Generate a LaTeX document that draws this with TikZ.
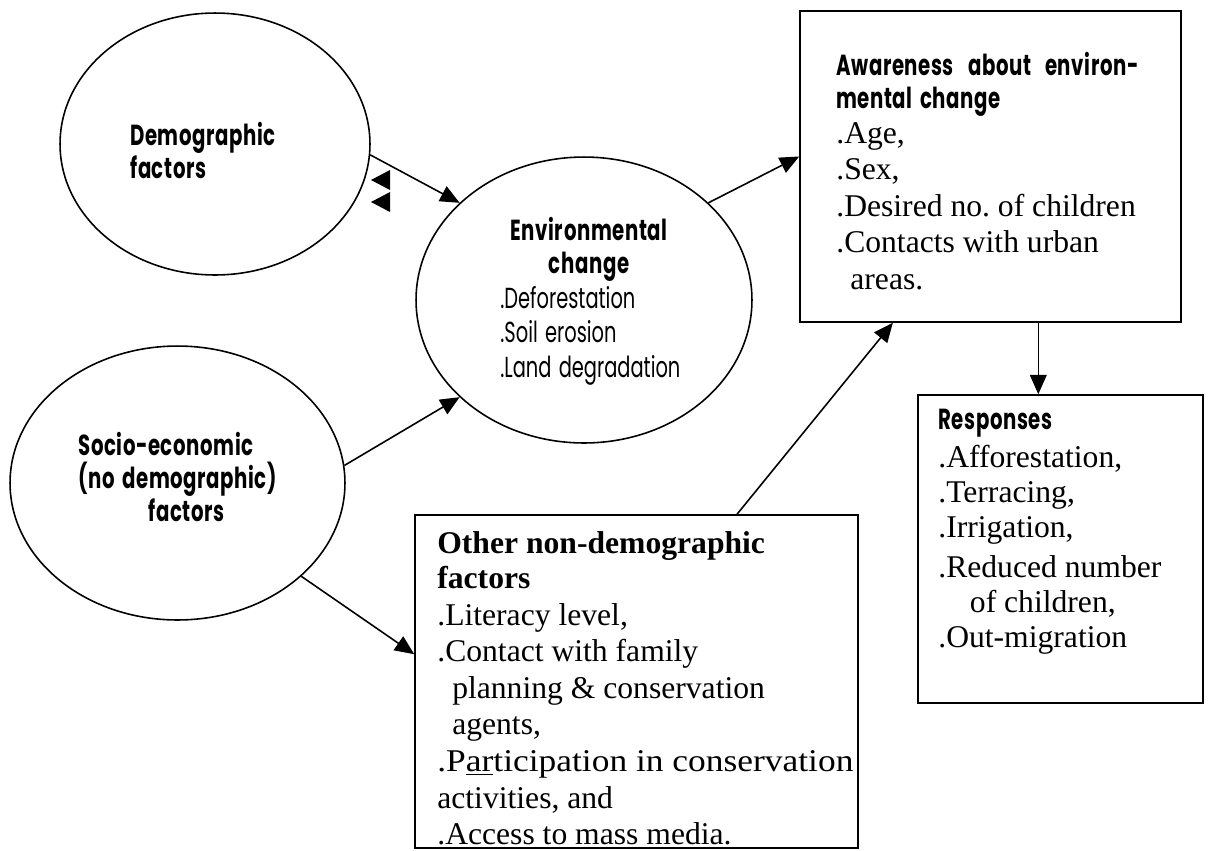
\documentclass[tikz,border=0pt]{standalone}
\usepackage{fontspec}
\usepackage{graphicx}
\setmainfont{Liberation Serif}
\newfontfamily\headfont[FakeStretch=0.68, WordSpace=1.6, LetterSpace=2]{Poppins}
\newfontfamily\listfont[FakeStretch=0.67, WordSpace=1.4]{Poppins}
\frenchspacing
\usetikzlibrary{positioning,shapes.geometric,arrows.meta,calc}

\tikzset{
  oval/.style={ellipse, draw, line width=0.9pt, inner sep=0pt},
  frame/.style={draw, rectangle, line width=0.9pt},
  headtxt/.style={font=\headfont\bfseries\fontsize{16.5}{18.8}\selectfont, align=left, inner sep=0pt, anchor=north west},
  listtxt/.style={font=\listfont\fontsize{16.5}{19.8}\selectfont, align=left, inner sep=0pt, anchor=north west},
  bodytxt/.style={font=\fontsize{18}{20.8}\selectfont, align=left, inner sep=0pt, anchor=north west},
  link/.style={line width=0.9pt, -{Stealth[inset=0pt, length=11pt, width=9.5pt]}}
}

\begin{document}
\begin{tikzpicture}[x=0.02cm, y=-0.02cm]
\useasboundingbox (0,0) rectangle (1208,850);

% Factor ellipses
\node[oval, minimum width=6.2cm, minimum height=5.24cm] (demo) at (215,144) {};
\node[oval, minimum width=6.72cm, minimum height=5.72cm] (env) at (584,300) {};
\node[oval, minimum width=6.7cm, minimum height=5.48cm] (socio) at (177.5,483) {};

% Boxes
\node[frame, minimum width=7.62cm, minimum height=6.22cm] (aware) at (990.5,166.5) {};
\node[frame, minimum width=5.7cm, minimum height=6.16cm] (resp) at (1060.5,549) {};
\node[frame, minimum width=8.86cm, minimum height=6.66cm] (other) at (636.5,681.5) {};

% Texts in the ellipses
\node[headtxt] (demotxt) at (130,121.5) {Demographic\\factors};
\node[headtxt, anchor=north, align=center] (envtxt) at (589,216.5) {Environmental\\change};
\node[listtxt] (envlist) at (500,285.5) {.Deforestation\\.Soil erosion\\.Land degradation};
\node[headtxt] (sociotxt) at (78,431.5) {Socio-economic\\(no demographic)\\\hspace*{40pt}factors};

% Texts in the boxes
\node[headtxt] (awarehead) at (836,51.5) {\makebox[172pt][s]{Awareness about environ-}\\mental change};
\node[bodytxt] (awarelist) at (836,122) {.Age,\\.Sex,\\.Desired no. of children\\.Contacts with urban\\\hspace*{8pt}areas.};

\node[headtxt] (resphead) at (938,408.5) {Responses};
\node[bodytxt, font=\fontsize{18}{19.8}\selectfont] (resplist) at (938,445)
  {.Afforestation,\\.Terracing,\\.Irrigation,\\[3.4pt].Reduced number\\\hspace*{18pt}of children,\\.Out-migration};

\node[bodytxt, font=\bfseries\fontsize{18}{19.8}\selectfont] (otherhead) at (437,531) {Other non-demographic\\factors};
\node[bodytxt] (otherlist) at (437,603)
  {.Literacy level,\\.Contact with family\\\hspace*{8.5pt}planning \& conservation\\\hspace*{8.5pt}agents,\\
   \scalebox{1.12}[1]{.P\underline{ar}ticipation in conservation}\\activities, and\\.Access to mass media.};

% Connectors
\draw[link] (demo.-4) -- (env.142);
\draw[link] (env.38) -- (aware.177);
\draw[link] (socio.6) -- (env.218);
\draw[link] (socio.-37) -- (other.173);
\draw[link] (other.59.4) -- (aware.238);
\coordinate (drop) at ($(aware.south west)!0.625!(aware.south east)$);
\draw[link] (drop) -- (drop |- resp.north);

% Loose arrow heads beside the first ellipse
\foreach \ty in {180,202}
  \fill (371,\ty) -- (390,\ty-10) -- (390,\ty+10) -- cycle;
\end{tikzpicture}
\end{document}
